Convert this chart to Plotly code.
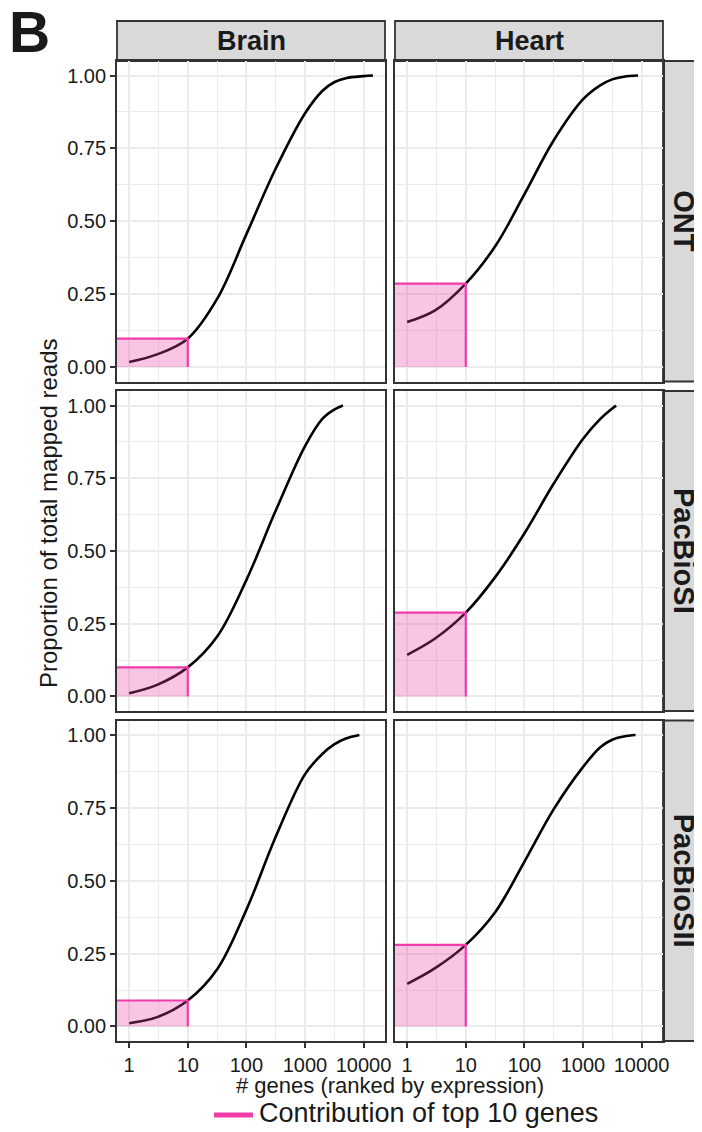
import plotly.graph_objects as go

# ---------------- data ----------------
tissues = ["Brain", "Heart"]
platforms = ["ONT", "PacBioSI", "PacBioSII"]

brain_ont_rank = [1, 3, 10, 32, 100, 316, 1000, 2000, 3162, 5000, 10000, 14500]
brain_ont_prop = [0.017, 0.043, 0.097, 0.235, 0.455, 0.680, 0.870, 0.948, 0.977, 0.991, 0.998, 1.0]

heart_ont_rank = [1, 3, 10, 32, 100, 316, 1000, 2000, 3162, 5000, 8700]
heart_ont_prop = [0.154, 0.194, 0.286, 0.415, 0.592, 0.777, 0.918, 0.967, 0.987, 0.996, 1.0]

brain_si_rank = [1, 3, 10, 32, 100, 316, 1000, 2000, 3162, 4460]
brain_si_prop = [0.011, 0.040, 0.100, 0.207, 0.400, 0.638, 0.860, 0.955, 0.986, 1.0]

heart_si_rank = [1, 3, 10, 32, 100, 316, 1000, 2000, 3162, 3700]
heart_si_prop = [0.143, 0.199, 0.288, 0.411, 0.560, 0.731, 0.885, 0.955, 0.990, 1.0]

brain_sii_rank = [1, 3, 10, 32, 100, 316, 1000, 2000, 3162, 5000, 8500]
brain_sii_prop = [0.011, 0.032, 0.089, 0.197, 0.400, 0.650, 0.865, 0.936, 0.968, 0.988, 1.0]

heart_sii_rank = [1, 3, 10, 32, 100, 316, 1000, 2000, 3162, 5000, 7900]
heart_sii_prop = [0.146, 0.200, 0.280, 0.393, 0.565, 0.745, 0.890, 0.959, 0.984, 0.995, 1.0]

top10_n = 10
top10_prop = {
    ("ONT", "Brain"): 0.097, ("ONT", "Heart"): 0.286,
    ("PacBioSI", "Brain"): 0.100, ("PacBioSI", "Heart"): 0.288,
    ("PacBioSII", "Brain"): 0.089, ("PacBioSII", "Heart"): 0.280,
}

curves = {
    ("ONT", "Brain"): (brain_ont_rank, brain_ont_prop),
    ("ONT", "Heart"): (heart_ont_rank, heart_ont_prop),
    ("PacBioSI", "Brain"): (brain_si_rank, brain_si_prop),
    ("PacBioSI", "Heart"): (heart_si_rank, heart_si_prop),
    ("PacBioSII", "Brain"): (brain_sii_rank, brain_sii_prop),
    ("PacBioSII", "Heart"): (heart_sii_rank, heart_sii_prop),
}

x_ticks = [1, 10, 100, 1000, 10000]
x_ticktext = ["1", "10", "100", "1000", "10000"]
y_ticks = [0, 0.25, 0.5, 0.75, 1.0]
y_ticktext = ["0.00", "0.25", "0.50", "0.75", "1.00"]
legend_label = "Contribution of top 10 genes"

# ---------------- layout geometry (pixels of the page) ----------------
OFF = 8                      # default body margin of the html page
W, H = 702 - OFF, 1132 - OFF
FONT = "Liberation Sans, Arial, Helvetica, sans-serif"
col_px = [(117, 385), (395, 663)]
row_px = [(61, 381.5), (391, 711), (720.5, 1041)]
PINK = "#F03CAA"
PINK_FILL = "rgba(240,60,170,0.30)"
GRID = "#EBEBEB"
BORDER = "#333333"
TXT = "#1a1a1a"

def fx(px):
    return (px - OFF) / W

def fy(py):
    return 1 - (py - OFF) / H

fig = go.Figure()
layout_axes = {}

for r, plat in enumerate(platforms):
    for c, tis in enumerate(tissues):
        i = r * 2 + c + 1
        xa = "x" if i == 1 else f"x{i}"
        ya = "y" if i == 1 else f"y{i}"
        ranks, props = curves[(plat, tis)]
        top = top10_prop[(plat, tis)]
        # cumulative curve
        fig.add_trace(go.Scatter(x=ranks, y=props, mode="lines",
                                 line=dict(color="black", width=2.6, shape="spline", smoothing=1.0),
                                 xaxis=xa, yaxis=ya, showlegend=False, hoverinfo="skip"))
        # shaded top-10 area (extends past the left panel edge, clipped)
        left = 0.3
        fig.add_trace(go.Scatter(x=[left, top10_n, top10_n, left, left], y=[0, 0, top, top, 0],
                                 mode="lines", fill="toself", fillcolor=PINK_FILL,
                                 line=dict(width=0, color="rgba(0,0,0,0)"),
                                 xaxis=xa, yaxis=ya, showlegend=False, hoverinfo="skip"))
        fig.add_trace(go.Scatter(x=[left, top10_n, top10_n], y=[top, top, 0], mode="lines",
                                 line=dict(color=PINK, width=2.2),
                                 xaxis=xa, yaxis=ya, showlegend=False, hoverinfo="skip"))

        bottom = (r == len(platforms) - 1)
        leftcol = (c == 0)
        x0, x1 = col_px[c]
        y0, y1 = row_px[r]
        layout_axes["xaxis" if i == 1 else f"xaxis{i}"] = dict(
            type="log", range=[-0.208, 4.367], domain=[fx(x0), fx(x1)],
            anchor=ya, tickvals=x_ticks, ticktext=x_ticktext,
            showticklabels=bottom, ticks="outside" if bottom else "", ticklen=5,
            tickwidth=1.5, tickcolor=BORDER,
            tickfont=dict(size=20, color=TXT, family=FONT),
            showgrid=True, gridcolor=GRID, gridwidth=2,
            minor=dict(tickvals=[3.1623, 31.623, 316.23, 3162.3], showgrid=True,
                       gridcolor=GRID, gridwidth=1.2, ticks=""),
            showline=True, mirror=True, linecolor=BORDER, linewidth=1.8, zeroline=False,
            fixedrange=True, automargin=False,
        )
        layout_axes["yaxis" if i == 1 else f"yaxis{i}"] = dict(
            range=[-0.05, 1.05], domain=[fy(y1), fy(y0)], anchor=xa,
            tickvals=y_ticks, ticktext=y_ticktext,
            showticklabels=leftcol, ticks="outside" if leftcol else "", ticklen=5,
            tickwidth=1.5, tickcolor=BORDER,
            tickfont=dict(size=20, color=TXT, family=FONT),
            showgrid=True, gridcolor=GRID, gridwidth=2,
            minor=dict(tickvals=[0.125, 0.375, 0.625, 0.875], showgrid=True,
                       gridcolor=GRID, gridwidth=1.2, ticks=""),
            showline=True, mirror=True, linecolor=BORDER, linewidth=1.8, zeroline=False,
            fixedrange=True, automargin=False,
        )

shapes = []
annotations = []
# column strips
for c, tis in enumerate(tissues):
    x0, x1 = col_px[c]
    shapes.append(dict(type="rect", xref="paper", yref="paper",
                       x0=fx(x0), x1=fx(x1), y0=fy(61), y1=fy(21),
                       fillcolor="#D9D9D9", line=dict(color=BORDER, width=1.8), layer="below"))
    annotations.append(dict(text=f"<b>{tis}</b>", xref="paper", yref="paper",
                            x=fx((x0 + x1) / 2), y=fy(41), showarrow=False,
                            xanchor="center", yanchor="middle",
                            font=dict(size=27, color=TXT, family=FONT)))
# row strips
for r, plat in enumerate(platforms):
    y0, y1 = row_px[r]
    shapes.append(dict(type="rect", xref="paper", yref="paper",
                       x0=fx(663), x1=fx(730), y0=fy(y1), y1=fy(y0),
                       fillcolor="#D9D9D9", line=dict(color=BORDER, width=1.8), layer="below"))
    annotations.append(dict(text=f"<b>{plat}</b>", xref="paper", yref="paper",
                            x=fx(684), y=fy((y0 + y1) / 2), showarrow=False, textangle=90,
                            xanchor="center", yanchor="middle",
                            font=dict(size=29, color=TXT, family=FONT)))

# panel letter
annotations.append(dict(text="<b>B</b>", xref="paper", yref="paper", x=fx(8), y=fy(32),
                        showarrow=False, xanchor="left", yanchor="middle", borderpad=0,
                        font=dict(size=57, color=TXT, family=FONT)))
# axis titles
annotations.append(dict(text="Proportion of total mapped reads", xref="paper", yref="paper",
                        x=fx(48), y=fy(513), showarrow=False, textangle=-90,
                        xanchor="center", yanchor="middle",
                        font=dict(size=24, color=TXT, family=FONT)))
annotations.append(dict(text="# genes (ranked by expression)", xref="paper", yref="paper",
                        x=fx(390), y=fy(1085), showarrow=False,
                        xanchor="center", yanchor="middle", borderpad=0,
                        font=dict(size=22, color=TXT, family=FONT)))
# legend (drawn manually so it does not push the margins)
shapes.append(dict(type="line", xref="paper", yref="paper", x0=fx(214), x1=fx(253),
                   y0=fy(1115), y1=fy(1115), line=dict(color=PINK, width=5)))
annotations.append(dict(text=legend_label, xref="paper", yref="paper",
                        x=fx(257), y=fy(1113), showarrow=False, xanchor="left", yanchor="middle",
                        font=dict(size=27, color=TXT, family=FONT)))

fig.update_layout(
    width=W, height=H, margin=dict(l=0, r=0, t=0, b=0, autoexpand=False),
    plot_bgcolor="white", paper_bgcolor="white",
    font=dict(family=FONT, color=TXT),
    shapes=shapes, annotations=annotations,
    showlegend=False,
    **layout_axes,
)

fig.write_html("out.html")
